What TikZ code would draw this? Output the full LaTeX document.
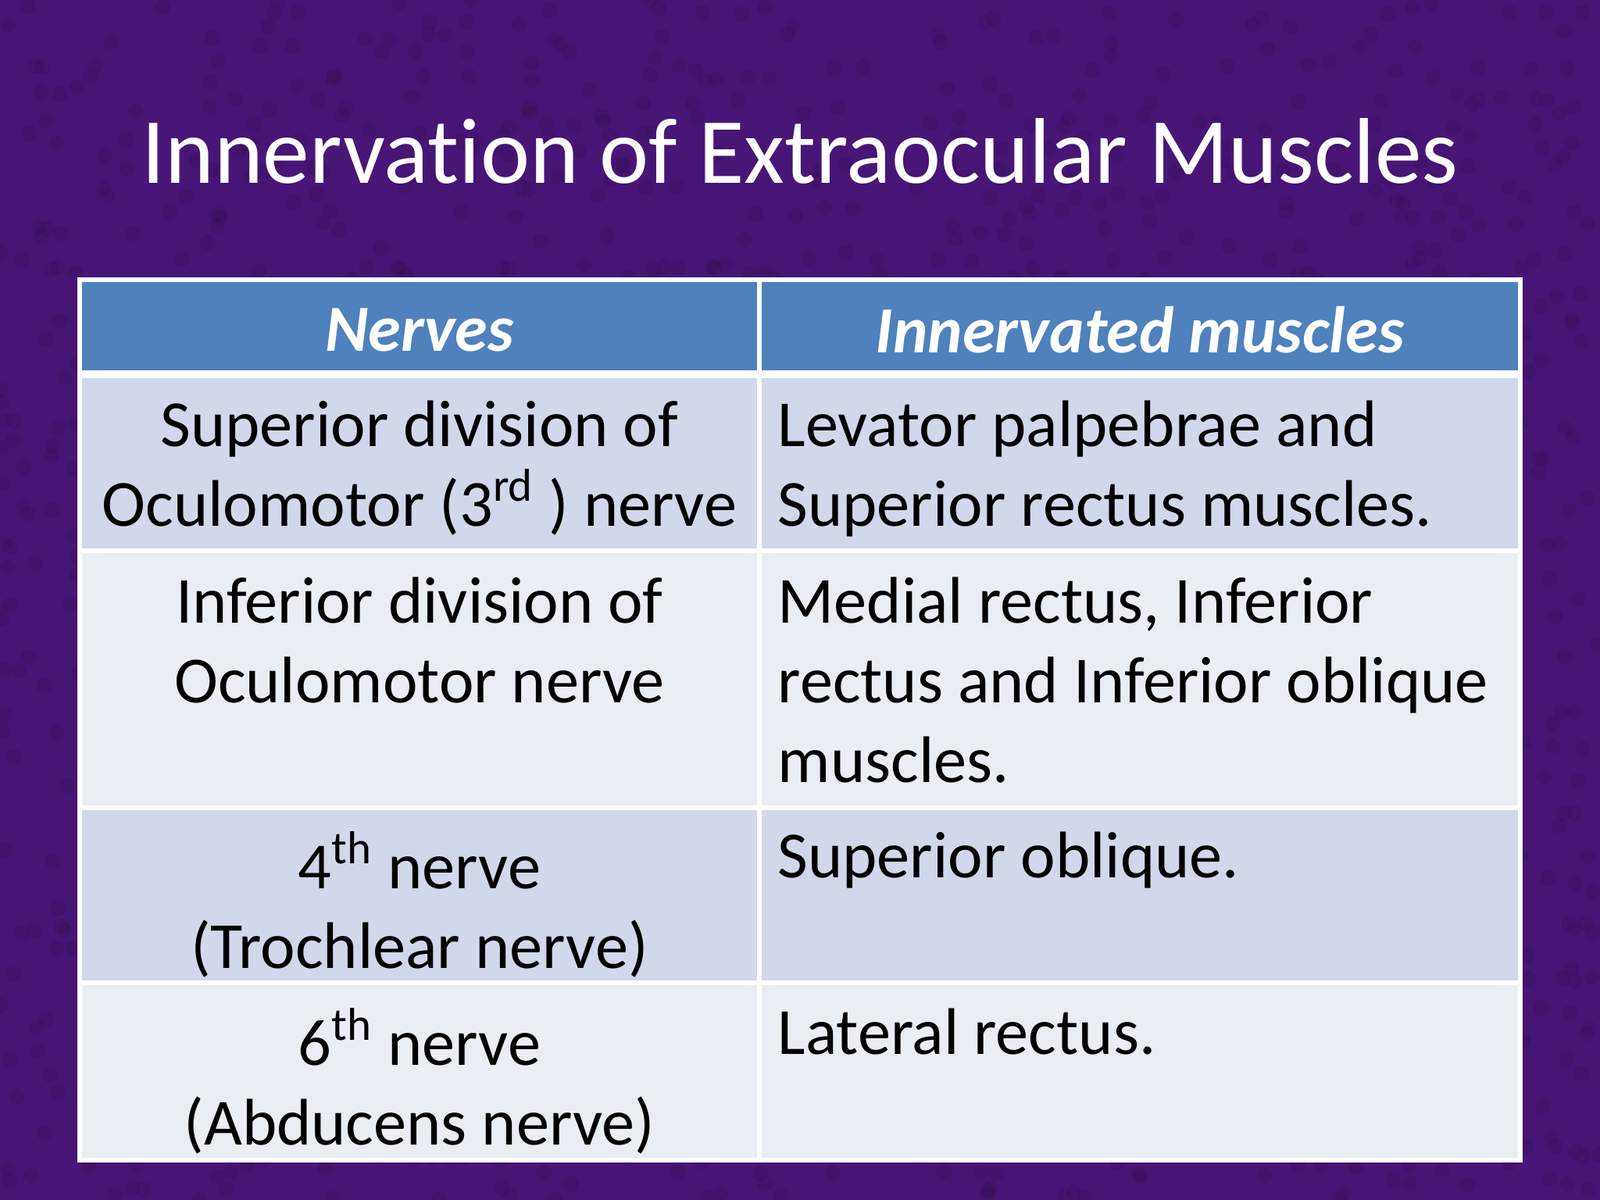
\documentclass[tikz,border=0pt]{standalone}
\usepackage{fontspec}
\setmainfont{Carlito}[Ligatures={NoCommon}]
\begin{document}
\begin{tikzpicture}[x=1cm,y=1cm,
  cellL/.style={anchor=north,align=center,inner sep=0pt,font=\fontsize{24}{29}\selectfont},
  cellR/.style={anchor=north west,align=left,inner sep=0pt,font=\fontsize{24}{29}\selectfont},
  hdr/.style={text=white,font=\fontsize{24}{29}\selectfont\bfseries\itshape},
  gridline/.style={white,line width=1.5pt}]
\definecolor{bgp}{RGB}{72,22,118}
\definecolor{hdrc}{RGB}{79,129,189}
\definecolor{rowA}{RGB}{208,216,234}
\definecolor{rowB}{RGB}{233,237,244}
\useasboundingbox (0,0) rectangle (20.48,-15.36);
\fill[bgp] (0,0) rectangle (20.48,-15.36);
\foreach \i in {1,...,1500}{
  \pgfmathsetmacro\xx{rnd*20.48}\pgfmathsetmacro\yy{-rnd*15.36}
  \fill[black!50!bgp,opacity=0.15] (\xx,\yy) circle (0.1);
}
\node (title) at (10.24,-1.93) [text=white,font=\fontsize{34}{40}\selectfont] {Innervation of Extraocular Muscles};
\fill[hdrc] (1.02,-3.58) rectangle (19.46,-4.79);
\fill[rowA] (1.02,-4.79) rectangle (19.46,-7.05);
\fill[rowB] (1.02,-7.05) rectangle (19.46,-10.34);
\fill[rowA] (1.02,-10.34) rectangle (19.46,-12.58);
\fill[rowB] (1.02,-12.58) rectangle (19.46,-14.85);
\draw[gridline] (1.02,-3.58) rectangle (19.46,-14.85);
\draw[gridline,line width=3pt] (1.02,-4.79) -- (19.46,-4.79);
\foreach \y in {-7.05,-10.34,-12.58} \draw[gridline] (1.02,\y) -- (19.46,\y);
\draw[gridline] (9.72,-3.58) -- (9.72,-14.85);
\node[hdr] (h1) at (5.37,-4.22) {Nerves};
\node[hdr] (h2) at (14.59,-4.22) {Innervated muscles};
\node[cellL] (l1) at (5.37,-5.12) {Superior division of\\Oculomotor (3\textsuperscript{rd} ) nerve};
\node[cellL] (l2) at (5.37,-7.38) {Inferior division of\\Oculomotor nerve};
\node[cellL] (l3) at (5.37,-10.64) {4\textsuperscript{th} nerve\\(Trochlear nerve)};
\node[cellL] (l4) at (5.37,-12.9) {6\textsuperscript{th} nerve\\(Abducens nerve)};
\node[cellR] (r1) at (9.95,-5.12) {Levator palpebrae and\\Superior rectus muscles.};
\node[cellR] (r2) at (9.95,-7.38) {Medial rectus, Inferior\\rectus and Inferior oblique\\muscles.};
\node[cellR] (r3) at (9.95,-10.64) {Superior oblique.};
\node[cellR] (r4) at (9.95,-12.9) {Lateral rectus.};
\end{tikzpicture}
\end{document}
